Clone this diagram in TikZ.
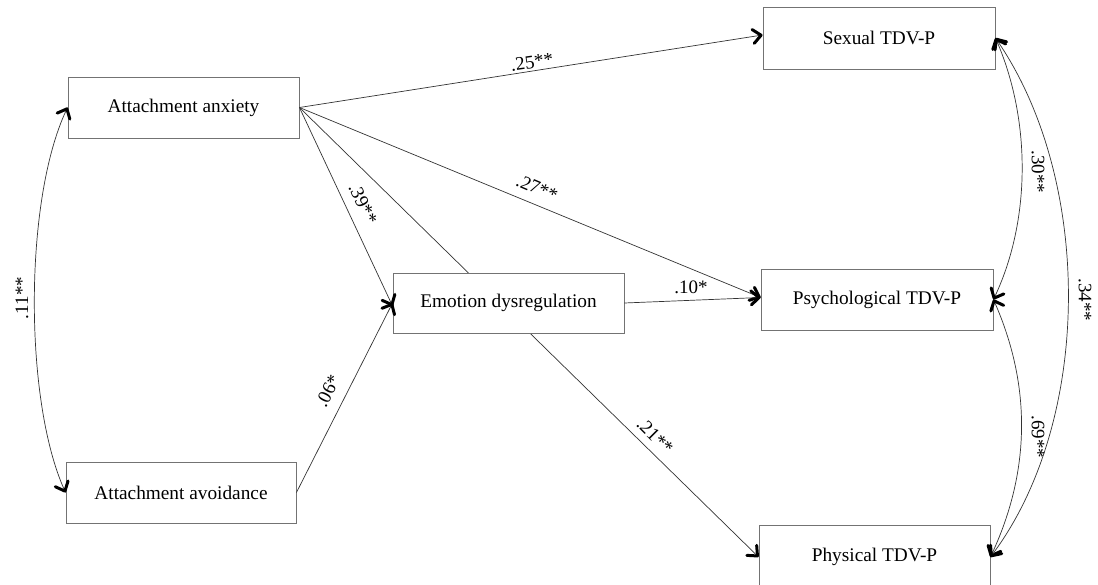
\documentclass[tikz,border=0pt]{standalone}
\usepackage{fontspec}
\setmainfont{Liberation Serif}
\usetikzlibrary{arrows.meta,backgrounds}
\begin{document}
\begin{tikzpicture}[x=1pt,y=-1pt,
  box/.style={draw=black!55,line width=0.9pt,fill=white,inner sep=0pt,
    font=\fontsize{19.3}{22}\selectfont},
  conn/.style={draw=black!80,line width=0.7pt,
    -{Straight Barb[length=8pt,width=14pt,line width=3pt,round,color=black]}},
  corr/.style={draw=black!80,line width=0.7pt,
    {Straight Barb[length=8pt,width=14pt,line width=3pt,round,color=black]}-{Straight Barb[length=8pt,width=14pt,line width=3pt,round,color=black]}},
  lbl/.style={inner sep=0pt,font=\fontsize{19}{22}\selectfont}]
\clip (0,0) rectangle (1098,585);
\node[box,minimum width=231pt,minimum height=61pt] (anx) at (183.5,107.5) {Attachment anxiety};
\node[box,minimum width=230pt,minimum height=61pt] (avo) at (181,492.5) {Attachment avoidance};
\node[box,minimum width=231pt,minimum height=60pt] (emo) at (508.5,303) {Emotion dysregulation};
\node[box,minimum width=232pt,minimum height=62pt] (sex) at (879,38) {Sexual TDV-P};
\node[box,minimum width=232pt,minimum height=61pt] (psy) at (877,299.5) {Psychological TDV-P};
\node[box,minimum width=231pt,minimum height=64pt] (phy) at (874.5,557) {Physical TDV-P};
\begin{pgfonlayer}{background}
\draw[conn] (anx.east) -- (phy.west);
\end{pgfonlayer}
\draw[conn] (anx.east) -- ([yshift=3pt]sex.west);
\draw[conn] (anx.east) -- ([yshift=2pt]psy.west);
\draw[conn] (anx.east) -- ([yshift=-3pt]emo.west);
\draw[conn] (avo.east) -- (emo.west);
\draw[conn] (emo.east) -- ([yshift=2pt]psy.west);
\draw[corr] (anx.west) .. controls (24,200) and (24,400) .. (avo.west);
\draw[corr] (sex.east) .. controls (1031,120) and (1031,220) .. (psy.east);
\draw[corr] (psy.east) .. controls (1031,385) and (1031,470) .. (phy.east);
\draw[corr] (sex.east) .. controls (1093,180) and (1093,420) .. (phy.east);
\node[lbl,rotate=8] (l25) at (532,62) {.25**};
\node[lbl,rotate=-23] (l27) at (537,188) {.27**};
\node[lbl,rotate=-64] (l39) at (363,204) {.39**};
\node[lbl] (l10) at (691,287) {.10*};
\node[lbl,rotate=-45] (l21) at (655,436) {.21**};
\node[lbl,rotate=63] (l06) at (328,391) {.06*};
\node[lbl,rotate=90] (l11) at (22,298) {.11**};
\node[lbl,rotate=-90] (l30) at (1038,172) {.30**};
\node[lbl,rotate=-90] (l34) at (1085,300) {.34**};
\node[lbl,rotate=-90] (l69) at (1038,437) {.69**};
\end{tikzpicture}
\end{document}
